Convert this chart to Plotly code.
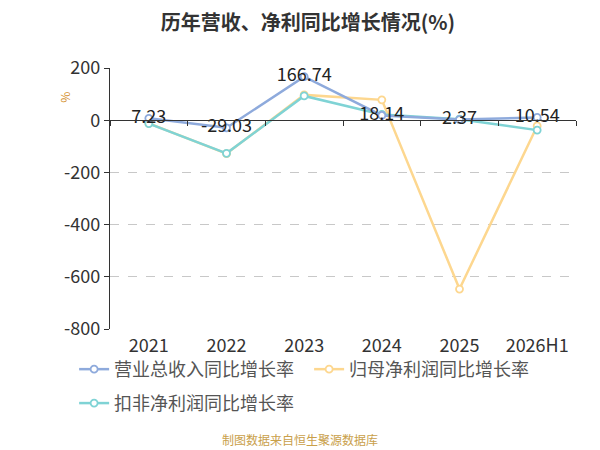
import plotly.graph_objects as go

YEARS = ["2021", "2022", "2023", "2024", "2025", "2026H1"]
REVENUE_YOY = [7.23, -29.03, 166.74, 18.14, 2.37, 10.54]
NET_PROFIT_YOY = [-12, -128, 97, 78, -647, -22]
DEDUCTED_PROFIT_YOY = [-13, -127, 93, 22, 4, -38]
Y_TICKS = [200, 0, -200, -400, -600, -800]

FONT = "Noto Sans CJK SC, sans-serif"
BLUE = "#8eaadc"
ORANGE = "#fdd78f"
TEAL = "#7fd3d5"

fig = go.Figure()


def add_line(values, name, color, rank, legend, labels=False):
    fig.add_trace(go.Scatter(
        x=YEARS, y=values, name=name, legendrank=rank, legend=legend,
        mode="lines+markers+text" if labels else "lines+markers",
        line=dict(color=color, width=2.5),
        marker=dict(symbol="circle", size=7, color="white", line=dict(color=color, width=1.8)),
        text=[f"{v:.2f}" for v in values] if labels else None,
        textposition="middle center",
        textfont=dict(size=18, color="#222", family=FONT),
    ))


# revenue drawn last so its labels sit on top
add_line(NET_PROFIT_YOY, "归母净利润同比增长率", ORANGE, 2, "legend")
add_line(DEDUCTED_PROFIT_YOY, "扣非净利润同比增长率", TEAL, 3, "legend2")
add_line(REVENUE_YOY, "营业总收入同比增长率", BLUE, 1, "legend", labels=True)

# invisible trace so the zero-line x axis with tick marks gets drawn
fig.add_trace(go.Scatter(x=YEARS, y=[None] * len(YEARS), xaxis="x2",
                         showlegend=False, hoverinfo="skip"))

legend_style = dict(orientation="h", x=-0.077, xanchor="left", yanchor="middle",
                    font=dict(size=18, color="#555"), bgcolor="rgba(0,0,0,0)",
                    entrywidth=190, entrywidthmode="pixels", tracegroupgap=0)

fig.update_layout(
    width=600, height=450,
    margin=dict(l=102, r=32, t=60, b=129, autoexpand=False),
    paper_bgcolor="white", plot_bgcolor="white",
    font=dict(family=FONT, color="#333"),
    title=dict(text="<b>历年营收、净利同比增长情况(%)</b>", x=0.5, xanchor="center",
               y=1 - 15 / 450, yanchor="middle", font=dict(size=20, color="#333")),
    xaxis=dict(type="category", showline=False, ticks="", showgrid=False, automargin=False,
               tickfont=dict(size=18, color="#333"), range=[-0.5, 5.5],
               ticklabelstandoff=4),
    xaxis2=dict(type="category", overlaying="x", matches="x", anchor="free", position=0.8,
                showline=True, linecolor="#333", linewidth=1.2, ticks="outside",
                tickson="boundaries", ticklen=5, tickcolor="#333", showticklabels=False,
                showgrid=False, side="bottom"),
    yaxis=dict(range=[-800, 200], tickvals=Y_TICKS, ticktext=[str(v) for v in Y_TICKS],
               showline=True, linecolor="#333", linewidth=1.2, ticks="outside", ticklen=5,
               tickcolor="#333", tickfont=dict(size=18, color="#333"), automargin=False,
               showgrid=True, gridcolor="#c8c8c8", griddash="dash", gridwidth=1,
               zeroline=False),
    legend=dict(legend_style, y=-0.155),
    legend2=dict(legend_style, y=-0.285),
    showlegend=True,
)

fig.add_annotation(text="%", xref="paper", yref="paper", x=-0.097, y=0.889,
                   xanchor="center", yanchor="middle", showarrow=False, textangle=-90,
                   font=dict(size=12, color="#d4902c", family=FONT))

fig.add_annotation(text="制图数据来自恒生聚源数据库", xref="paper", yref="paper",
                   x=0.408, y=-0.425, xanchor="center", yanchor="middle", showarrow=False,
                   font=dict(size=12, color="#c9a04a", family=FONT))

fig.write_html("out.html")
